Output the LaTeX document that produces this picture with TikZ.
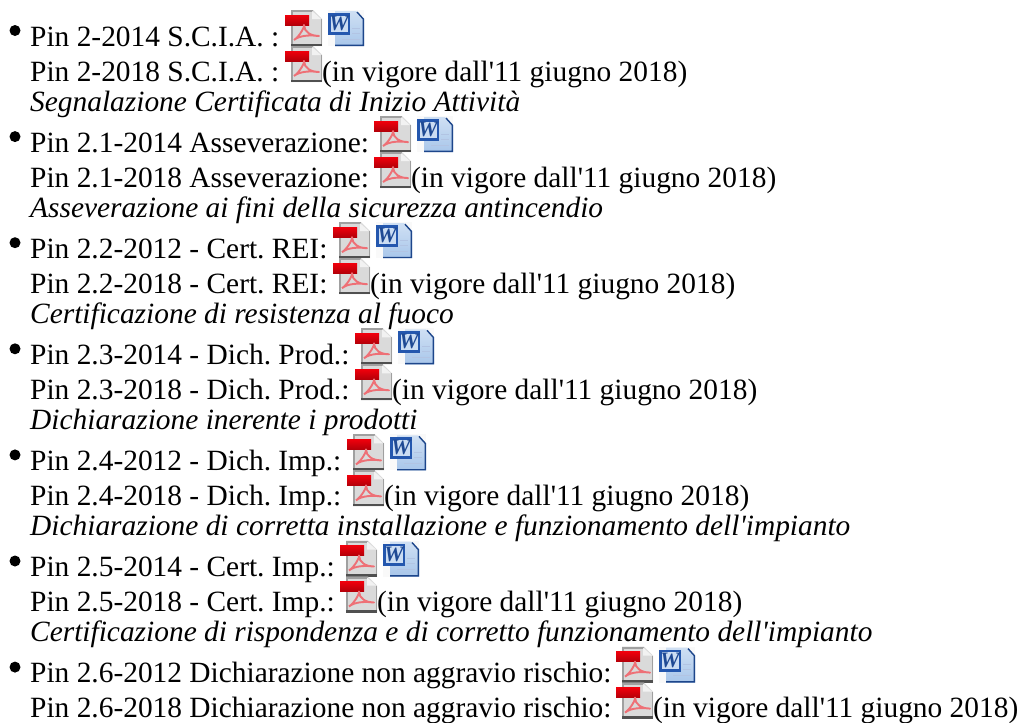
\documentclass[tikz,border=0pt]{standalone}
\usepackage{fontspec}
\setmainfont[Ligatures=TeXOff]{Liberation Serif}
\frenchspacing
\tikzset{x=1pt,y=-1pt,
 txt/.style={anchor=base west,inner sep=0pt,font=\fontsize{29.4}{31}\selectfont}}
\definecolor{pdfgray}{HTML}{DADADA}
\definecolor{pdfedge}{HTML}{A0A0A0}
\definecolor{pdfred}{HTML}{F0000C}
\definecolor{pdfsw}{HTML}{EE7076}
\definecolor{wblue}{HTML}{2457AE}
\definecolor{wpage}{HTML}{A8C6EA}
\newcommand{\pdficon}[2]{\begin{scope}[shift={(#1,#2)}]
 \fill[pdfgray] (6,0) -- (28,0) -- (37,9) -- (37,36) -- (6,36) -- cycle;
 \fill[pdfedge] (6,0) rectangle (8,36);
 \fill[pdfedge] (6,0) rectangle (28,2);
 \fill[pdfedge] (35.5,9) rectangle (37,36);
 \fill[pdfedge!50!black] (6,33.5) rectangle (37,36);
 \fill[white!90!gray] (27,1) -- (27,9) -- (36,9) -- cycle;
 \shade[top color=pdfred,bottom color=pdfred!75!black] (0,5) rectangle (24,15);
 \draw[pdfsw,line width=1.9pt,line join=round] (9,30) .. controls (15,26) and (20,16) .. (19,15) .. controls (19,22) and (26,26) .. (34,26) .. controls (26,25) and (15,25) .. (9,30);
\end{scope}}
\newcommand{\wordicon}[2]{\begin{scope}[shift={(#1,#2)}]
 \fill[white!95!gray] (0,0) rectangle (36,36);
 \shade[top color=wpage!55!white,bottom color=wpage] (7,1) -- (28,1) -- (36,9) -- (36,36) -- (7,36) -- cycle;
 \draw[wblue!80!black,line width=1.4pt] (29,2) -- (35.3,9) -- (35.3,35.3) -- (7,35.3);
 \draw[wblue!35!white,line width=1pt] (24,18) -- (32,18) (24,23) -- (32,23) (14,29) -- (32,29);
 \fill[wblue] (0,3) rectangle (22,25);
 \fill[wpage!60!white] (2.5,5.5) rectangle (19.5,22);
 \node[inner sep=0pt,text=wblue!85!black,font=\fontsize{22}{22}\selectfont\bfseries\itshape] (w#1x#2) at (11,13.5) {W};
\end{scope}}
\newcommand{\grp}[6]{\begin{scope}[shift={(0,106.1*#1)}]
 \fill (15,30.5) circle (5.5);
 \node[txt] (r#1a) at (30,46) {#3};
 \node[txt] (r#1b) at (30,81) {#4};
 \ifx\relax#5\relax\else\node[txt] (r#1c) at (30,111) {\itshape #5};\fi
 \pdficon{#2}{10}\wordicon{#2+43}{10}\pdficon{#2}{46}
 \node[txt] (r#1d) at (#2+37,81) {(in vigore dall'11 giugno 2018)};
\end{scope}}
\begin{document}
\begin{tikzpicture}
\useasboundingbox (0,0) rectangle (1021,723);
\fill[white] (0,0) rectangle (1021,723);
\grp{0}{285}{Pin 2-2014 S.C.I.A. :}{Pin 2-2018 S.C.I.A. :}{Segnalazione Certificata di Inizio Attività}{}
\grp{1}{374}{Pin 2.1-2014 Asseverazione:}{Pin 2.1-2018 Asseverazione:}{Asseverazione ai fini della sicurezza antincendio}{}
\grp{2}{333}{Pin 2.2-2012 - Cert. REI:}{Pin 2.2-2018 - Cert. REI:}{Certificazione di resistenza al fuoco}{}
\grp{3}{355}{Pin 2.3-2014 - Dich. Prod.:}{Pin 2.3-2018 - Dich. Prod.:}{Dichiarazione inerente i prodotti}{}
\grp{4}{347}{Pin 2.4-2012 - Dich. Imp.:}{Pin 2.4-2018 - Dich. Imp.:}{Dichiarazione di corretta installazione e funzionamento dell'impianto}{}
\grp{5}{340}{Pin 2.5-2014 - Cert. Imp.:}{Pin 2.5-2018 - Cert. Imp.:}{Certificazione di rispondenza e di corretto funzionamento dell'impianto}{}
\grp{6}{616}{Pin 2.6-2012 Dichiarazione non aggravio rischio:}{Pin 2.6-2018 Dichiarazione non aggravio rischio:}{}{}
\end{tikzpicture}
\end{document}
